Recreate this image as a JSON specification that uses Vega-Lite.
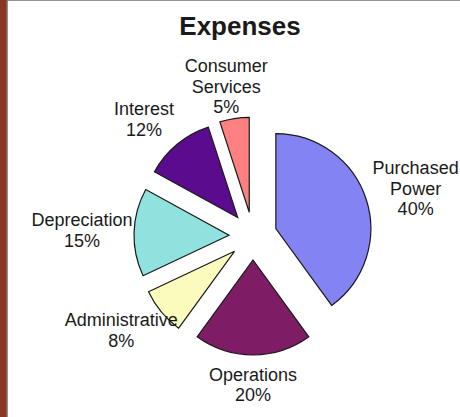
{
  "$schema": "https://vega.github.io/schema/vega-lite/v6.json",
  "width": 492,
  "height": 472,
  "autosize": {"type": "none"},
  "padding": {"left": 7, "top": 0, "right": -39, "bottom": -55},
  "background": "#8a3822",
  "config": {"view": {"stroke": null}, "font": "Liberation Sans"},
  "title": {"text": "Expenses", "fontSize": 26, "fontWeight": "bold", "font": "Liberation Sans", "color": "#1a1a1a", "anchor": "middle", "dx": -13, "offset": -41},
  "data": {"values": [
    {"category": "Purchased Power", "percent": 40, "rank": 1, "label": "Purchased\nPower\n40%"},
    {"category": "Operations", "percent": 20, "rank": 2, "label": "Operations\n20%"},
    {"category": "Administrative", "percent": 8, "rank": 3, "label": "Administrative\n8%"},
    {"category": "Depreciation", "percent": 15, "rank": 4, "label": "Depreciation\n15%"},
    {"category": "Interest", "percent": 12, "rank": 5, "label": "Interest\n12%"},
    {"category": "Consumer Services", "percent": 5, "rank": 6, "label": "Consumer\nServices\n5%"}
  ]},
  "layer": [
    {
      "transform": [{"aggregate": [{"op": "count", "as": "n"}]}],
      "mark": {"type": "rect", "fill": "white", "stroke": "#707070", "strokeWidth": 1.5}
    },
    {
      "mark": {
        "type": "arc", "outerRadius": 95, "stroke": "#1a1a1a", "strokeWidth": 1.2,
        "xOffset": {"expr": "24*sin(scale('theta', (datum.percent_start + datum.percent_end) / 2))"},
        "yOffset": {"expr": "-24*cos(scale('theta', (datum.percent_start + datum.percent_end) / 2))"}
      },
      "encoding": {
        "theta": {"field": "percent", "type": "quantitative", "stack": true},
        "order": {"field": "rank", "type": "quantitative"},
        "color": {
          "field": "category", "type": "nominal", "legend": null,
          "scale": {
            "domain": ["Purchased Power", "Operations", "Administrative", "Depreciation", "Interest", "Consumer Services"],
            "range": ["#8383f3", "#7e1d66", "#fbfbbd", "#90e2de", "#5b0b8e", "#ff8080"]
          }
        }
      }
    },
    {
      "mark": {
        "type": "text", "radius": 150, "fontSize": 18, "lineHeight": 20.5, "lineBreak": "\n", "color": "#1a1a1a", "align": "center", "baseline": "middle",
        "dx": {"expr": "21*sin(scale('theta', (datum.percent_start + datum.percent_end) / 2))"},
        "dy": {"expr": "-(length(split(datum.label, '\\n')) - 1) * 10.25"}
      },
      "encoding": {
        "theta": {"field": "percent", "type": "quantitative", "stack": true},
        "order": {"field": "rank", "type": "quantitative"},
        "text": {"field": "label", "type": "nominal"}
      }
    }
  ]
}
